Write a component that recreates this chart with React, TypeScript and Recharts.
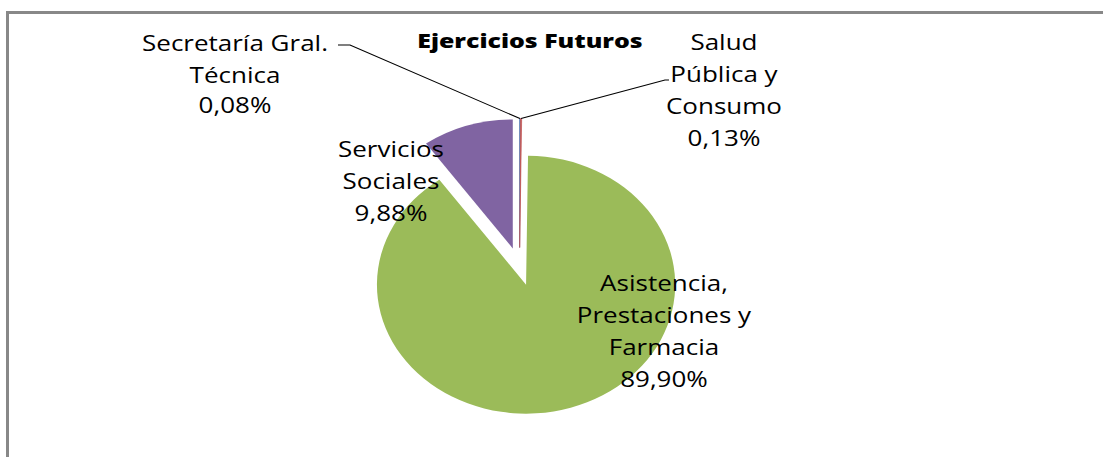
import React from 'react';
import { PieChart, Pie, Cell } from 'recharts';

// ---- data ----
const categories = [
  'Secretaría Gral. Técnica',
  'Salud Pública y Consumo',
  'Asistencia, Prestaciones y Farmacia',
  'Servicios Sociales',
];
const categoryLines = [
  ['Secretaría Gral.', 'Técnica'],
  ['Salud', 'Pública y', 'Consumo'],
  ['Asistencia,', 'Prestaciones y', 'Farmacia'],
  ['Servicios', 'Sociales'],
];
const values = [0.08, 0.13, 89.9, 9.88];
const colors = ['#4F81BD', '#C0504D', '#9BBB59', '#8064A2'];
const title = 'Ejercicios Futuros';

// ---- layout (screen px) ----
const W = 1103;
const H = 457;
const SX = 1.156; // horizontal stretch of the original picture
const CW = W / SX;
const CENTER_X = 519.5;
const CENTER_Y = 266.5;
const RADIUS = 129;
const EXPLODE = 19;
const FONT = "'Open Sans', 'Noto Sans', sans-serif";
const FONT_SIZE = 22.5;

const labelLayout = [
  { x: 235, baselines: [51, 83, 113], path: [[338, 45], [350, 45]] },
  { x: 724, baselines: [50.5, 82.5, 114.5, 146.5], path: [[665, 80], [669, 80]] },
  { x: 664, baselines: [291, 323, 355.5, 387], path: null },
  { x: 391, baselines: [157, 189, 221], path: null },
];

const fmtPct = (v: number) => v.toFixed(2).replace('.', ',') + '%';

const RAD = Math.PI / 180;

function makeLabel(i: number) {
  return (p: any) => {
    if (p.index !== i) return <g />;
    const lay = labelLayout[i];
    const lines = [...categoryLines[i], fmtPct(values[i])];
    const rimX = p.cx + p.outerRadius * Math.cos(-p.midAngle * RAD);
    const rimY = p.cy + p.outerRadius * Math.sin(-p.midAngle * RAD);
    let line = null;
    if (lay.path) {
      const pts = lay.path.map(([x, y]) => `${x / SX},${y}`);
      const all = i === 0 ? [...pts, `${rimX},${rimY}`] : [`${rimX},${rimY}`, ...pts];
      line = <polyline points={all.join(' ')} fill="none" stroke="#000" strokeWidth={1} />;
    }
    return (
      <g>
        {line}
        {lines.map((t, k) => (
          <text
            key={k}
            x={lay.x / SX}
            y={lay.baselines[k]}
            textAnchor="middle"
            fontFamily={FONT}
            fontSize={FONT_SIZE}
            fill="#000"
          >
            {t}
          </text>
        ))}
      </g>
    );
  };
}

export default function App() {
  const data = categories.map((name, i) => ({ name, value: values[i] }));
  const total = values.reduce((a, b) => a + b, 0);
  let acc = 0;
  const offsets = values.map((v) => {
    const mid = (90 - ((acc + v / 2) / total) * 360) * RAD;
    acc += v;
    return { dx: EXPLODE * Math.cos(mid), dy: -EXPLODE * Math.sin(mid) };
  });

  return (
    <div
      style={{
        position: 'absolute',
        left: 0,
        top: 0,
        width: W,
        height: H,
        overflow: 'hidden',
        background: '#fff',
      }}
    >
      <div
        style={{
          position: 'absolute',
          left: 6,
          top: 11,
          width: W + 20,
          height: H + 20,
          border: '3px solid #888',
          boxSizing: 'border-box',
        }}
      />
      <div
        style={{
          position: 'absolute',
          left: 0,
          top: 0,
          width: CW,
          height: H,
          transform: `scaleX(${SX})`,
          transformOrigin: '0 0',
        }}
      >
        <PieChart width={CW} height={H} margin={{ top: 0, right: 0, bottom: 0, left: 0 }}>
          <text
            x={530 / SX}
            y={48}
            textAnchor="middle"
            fontFamily={FONT}
            fontWeight={800}
            fontSize={18.5}
            textLength={195}
            lengthAdjust="spacingAndGlyphs"
            fill="#000"
          >
            {title}
          </text>
          {values.map((_, i) => (
            <Pie
              key={i}
              data={data}
              dataKey="value"
              nameKey="name"
              cx={CENTER_X / SX + offsets[i].dx}
              cy={CENTER_Y + offsets[i].dy}
              outerRadius={RADIUS}
              startAngle={90}
              endAngle={-270}
              stroke="none"
              isAnimationActive={false}
              labelLine={false}
              label={makeLabel(i)}
            >
              {data.map((_, j) => (
                <Cell
                  key={j}
                  fill={j === i ? colors[j] : 'transparent'}
                  stroke={j === i && values[j] < 1 ? colors[j] : 'none'}
                  strokeWidth={j === i && values[j] < 1 ? 0.6 : 0}
                />
              ))}
            </Pie>
          ))}
        </PieChart>
      </div>
    </div>
  );
}
